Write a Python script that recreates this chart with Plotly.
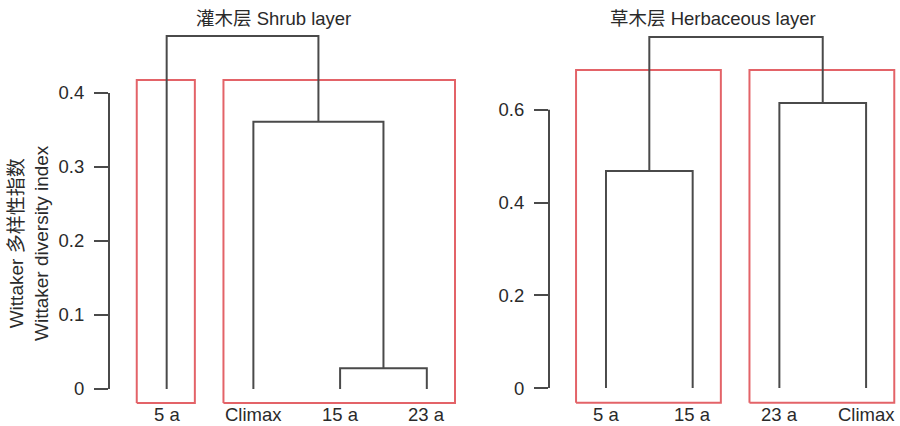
import plotly.graph_objects as go

# ---------------- data ----------------
shrub_leaves = ["5 a", "Climax", "15 a", "23 a"]
# merges: (cluster a, cluster b, height); new clusters numbered from len(leaves)
shrub_merges = [(2, 3, 0.028), (1, 4, 0.361), (0, 5, 0.477)]
shrub_groups = [[0], [1, 2, 3]]
shrub_cut = 0.4176
shrub_ticks = [0, 0.1, 0.2, 0.3, 0.4]
shrub_title = "灌木层 Shrub layer"

herb_leaves = ["5 a", "15 a", "23 a", "Climax"]
herb_merges = [(0, 1, 0.468), (2, 3, 0.615), (4, 5, 0.757)]
herb_groups = [[0, 1], [2, 3]]
herb_cut = 0.686
herb_ticks = [0, 0.2, 0.4, 0.6]
herb_title = "草木层 Herbaceous layer"

y_title = "Wittaker 多样性指数<br>Wittaker diversity index"

# ---------------- style ----------------
FONT = "Liberation Sans, Arial, Noto Sans CJK SC, sans-serif"
GRAY = "#4a4a4a"
RED = "#e36368"
TXT = "#2a2a2a"
FS = 18.5
W, H = 900, 426


def dendro_xy(leaves, merges):
    pos = {i: (i + 1.0, 0.0) for i in range(len(leaves))}
    xs, ys = [], []
    nid = len(leaves)
    for a, b, h in merges:
        xa, ha = pos[a]
        xb, hb = pos[b]
        xs += [xa, xa, xb, xb, None]
        ys += [ha, h, h, hb, None]
        pos[nid] = ((xa + xb) / 2, h)
        nid += 1
    return xs, ys


def box_xy(groups, cut, bottom, padl=0.345, padr=0.325):
    xs, ys = [], []
    for g in groups:
        x0 = min(g) + 1 - padl
        x1 = max(g) + 1 + padr
        xs += [x0, x0, x1, x1, x0, None]
        ys += [bottom, cut, cut, bottom, bottom, None]
    return xs, ys


fig = go.Figure()

panels = [
    dict(leaves=shrub_leaves, merges=shrub_merges, groups=shrub_groups, cut=shrub_cut,
         ticks=shrub_ticks, title=shrub_title, xa="x", ya="y", title_x=273,
         xdom=[109 / W, 461.5 / W], xr=[0.335, 4.4], yr=[-0.025, 0.49], bottom=-0.019),
    dict(leaves=herb_leaves, merges=herb_merges, groups=herb_groups, cut=herb_cut,
         ticks=herb_ticks, title=herb_title, xa="x2", ya="y2", title_x=712.5,
         xdom=[549 / W, 897.3 / W], xr=[0.343, 4.36], yr=[-0.042, 0.780], bottom=-0.032),
]

ydom = [(H - 407.5) / H, (H - 26.4) / H]
annotations = []
shapes = []

for i, p in enumerate(panels):
    bx, by = box_xy(p["groups"], p["cut"], p["bottom"])
    fig.add_trace(go.Scatter(x=bx, y=by, mode="lines", line=dict(color=RED, width=2),
                             xaxis=p["xa"], yaxis=p["ya"], hoverinfo="skip", showlegend=False))
    dx, dy = dendro_xy(p["leaves"], p["merges"])
    fig.add_trace(go.Scatter(x=dx, y=dy, mode="lines", line=dict(color=GRAY, width=2),
                             xaxis=p["xa"], yaxis=p["ya"], hoverinfo="skip", showlegend=False))
    suffix = "" if i == 0 else str(i + 1)
    fig.update_layout(**{
        "xaxis" + suffix: dict(domain=p["xdom"], range=p["xr"], visible=False,
                               anchor="y" + suffix),
        "yaxis" + suffix: dict(domain=ydom, range=p["yr"], anchor="x" + suffix,
                               tickvals=p["ticks"], ticktext=[f"{t:g}" for t in p["ticks"]],
                               ticks="outside", ticklen=14, tickwidth=2, tickcolor=GRAY,
                               showline=False, showgrid=False, zeroline=False,
                               tickfont=dict(family=FONT, size=FS, color=TXT),
                               ticklabelstandoff=6),
    })
    shapes.append(dict(type="line", xref=p["xa"] + " domain", yref=p["ya"],
                       x0=0, x1=0, y0=0, y1=max(p["ticks"]),
                       line=dict(color=GRAY, width=2)))
    for j, lab in enumerate(p["leaves"]):
        annotations.append(dict(x=j + 1, y=(H - 414) / H, xref=p["xa"], yref="paper",
                                text=lab, showarrow=False, xanchor="center", yanchor="middle",
                                font=dict(family=FONT, size=FS, color=TXT)))
    annotations.append(dict(x=p["title_x"] / W, y=(H - 18) / H, xref="paper", yref="paper",
                            text=p["title"], showarrow=False, xanchor="center", yanchor="middle",
                            font=dict(family=FONT, size=FS, color=TXT)))

annotations.append(dict(x=29 / W, y=(H - 243) / H, xref="paper", yref="paper",
                        text=y_title, showarrow=False, textangle=-90,
                        xanchor="center", yanchor="middle",
                        font=dict(family=FONT, size=19, color=TXT)))

fig.update_layout(width=W, height=H, autosize=False,
                  margin=dict(l=0, r=0, t=0, b=0),
                  paper_bgcolor="white", plot_bgcolor="white",
                  shapes=shapes, annotations=annotations)

fig.write_html("out.html", config={"displayModeBar": False},
               post_script="document.body.style.margin='0';document.body.style.overflow='hidden';")
